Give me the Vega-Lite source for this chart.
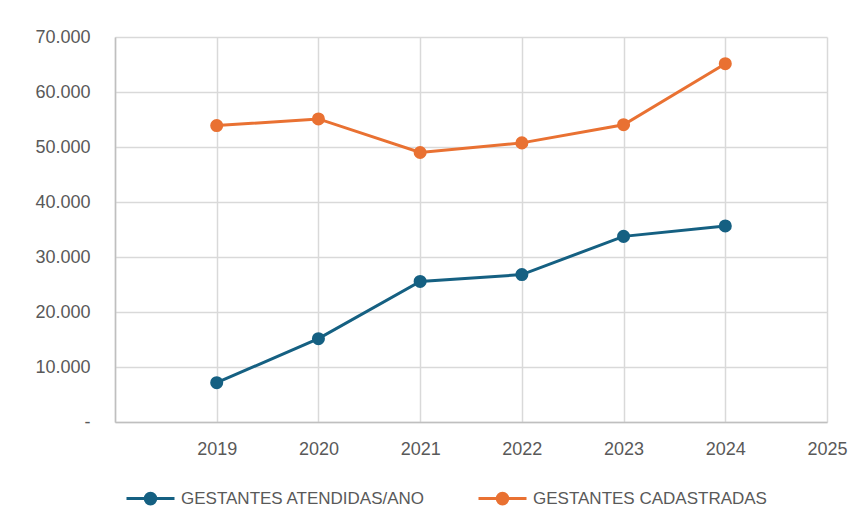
{
  "$schema": "https://vega.github.io/schema/vega-lite/v6.json",
  "width": 712,
  "height": 385,
  "autosize": {"type": "none"},
  "padding": {"left": 115, "top": 37, "right": 36, "bottom": 105},
  "background": "white",
  "config": {
    "view": {"stroke": null},
    "font": "Liberation Sans"
  },
  "data": {
    "values": [
      {"ano": 2019, "serie": "GESTANTES ATENDIDAS/ANO", "valor": 7150},
      {"ano": 2020, "serie": "GESTANTES ATENDIDAS/ANO", "valor": 15150},
      {"ano": 2021, "serie": "GESTANTES ATENDIDAS/ANO", "valor": 25550},
      {"ano": 2022, "serie": "GESTANTES ATENDIDAS/ANO", "valor": 26800},
      {"ano": 2023, "serie": "GESTANTES ATENDIDAS/ANO", "valor": 33750},
      {"ano": 2024, "serie": "GESTANTES ATENDIDAS/ANO", "valor": 35650},
      {"ano": 2019, "serie": "GESTANTES CADASTRADAS", "valor": 53900},
      {"ano": 2020, "serie": "GESTANTES CADASTRADAS", "valor": 55100},
      {"ano": 2021, "serie": "GESTANTES CADASTRADAS", "valor": 49000},
      {"ano": 2022, "serie": "GESTANTES CADASTRADAS", "valor": 50750},
      {"ano": 2023, "serie": "GESTANTES CADASTRADAS", "valor": 54050},
      {"ano": 2024, "serie": "GESTANTES CADASTRADAS", "valor": 65150}
    ]
  },
  "mark": {"type": "line", "strokeWidth": 3, "point": {"filled": true, "size": 170, "opacity": 1}},
  "encoding": {
    "x": {
      "field": "ano",
      "type": "quantitative",
      "scale": {"domain": [2018, 2025], "nice": false, "zero": false},
      "axis": {
        "title": null,
        "values": [2018, 2019, 2020, 2021, 2022, 2023, 2024, 2025],
        "format": "d",
        "labelExpr": "datum.value < 2019 ? '' : datum.label",
        "grid": true,
        "gridColor": "#d9d9d9",
        "gridWidth": 1.5,
        "domainColor": "#bfbfbf",
        "domainWidth": 1.5,
        "ticks": false,
        "labelPadding": 18,
        "labelFontSize": 18,
        "labelColor": "#595959",
        "labelFlush": false
      }
    },
    "y": {
      "field": "valor",
      "type": "quantitative",
      "scale": {"domain": [0, 70000], "nice": false},
      "axis": {
        "title": null,
        "values": [0, 10000, 20000, 30000, 40000, 50000, 60000, 70000],
        "labelExpr": "datum.value == 0 ? '-' : replace(format(datum.value, ','), ',', '.')",
        "grid": true,
        "gridColor": "#d9d9d9",
        "gridWidth": 1.5,
        "domainColor": "#bfbfbf",
        "domainWidth": 1.5,
        "ticks": false,
        "labelPadding": 25,
        "labelFontSize": 18,
        "labelColor": "#595959"
      }
    },
    "color": {
      "field": "serie",
      "type": "nominal",
      "scale": {
        "domain": ["GESTANTES ATENDIDAS/ANO", "GESTANTES CADASTRADAS"],
        "range": ["#156082", "#E97132"]
      },
      "legend": {
        "title": null,
        "orient": "none",
        "direction": "horizontal",
        "legendX": 10,
        "legendY": 436,
        "padding": 0,
        "columnPadding": 46,
        "symbolType": "M-1,0H-0.22M0.22,0H1M-0.22,0A0.22,0.22 0 1,0 0.22,0A0.22,0.22 0 1,0 -0.22,0Z",
        "symbolSize": 2304,
        "symbolStrokeWidth": 3,
        "labelOffset": 5,
        "labelFontSize": 17,
        "labelColor": "#595959",
        "labelLimit": 400,
        "encode": {
          "symbols": {
            "update": {
              "fill": {"scale": "color", "field": "value"},
              "stroke": {"scale": "color", "field": "value"},
              "opacity": {"value": 1}
            }
          }
        }
      }
    }
  }
}
